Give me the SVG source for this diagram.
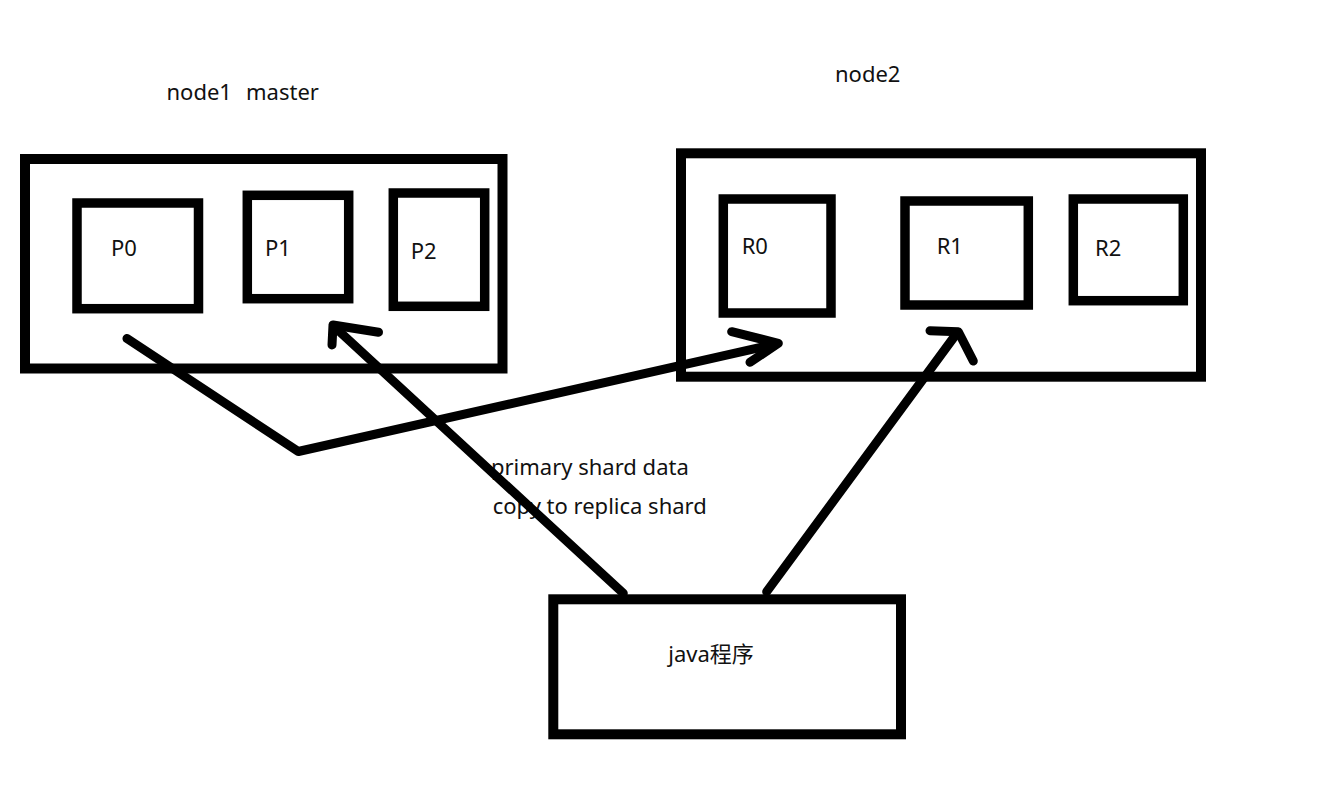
<svg xmlns="http://www.w3.org/2000/svg" width="1340" height="808" viewBox="0 0 1340 808">
  <style>
    .box { fill: none; stroke: #000; stroke-width: 10; }
    .shard { fill: none; stroke: #000; stroke-width: 9.5; }
    .lbl { font-family: "Noto Sans", "Liberation Sans", "Noto Sans CJK SC", sans-serif; font-size: 22px; fill: #111; }
    .wire { fill: none; stroke: #000; stroke-width: 9; stroke-linecap: round; stroke-linejoin: round; }
  </style>
  <rect x="0" y="0" width="1340" height="808" fill="#fff"/>

  <!-- node titles -->
  <text class="lbl" x="166.5" y="99.5">node1</text>
  <text class="lbl" x="246" y="99.5">master</text>
  <text class="lbl" x="835" y="81.5">node2</text>

  <!-- node1 with primary shards -->
  <g id="node1">
    <rect class="box" x="25" y="159" width="477.5" height="209.5"/>
  </g>
  <g id="P0">
    <rect class="shard" x="77" y="203" width="121.5" height="105.7"/>
    <text class="lbl" x="111" y="255.7">P0</text>
  </g>
  <g id="P1">
    <rect class="shard" x="247.3" y="195.3" width="101.4" height="103.4"/>
    <text class="lbl" x="265" y="255.7">P1</text>
  </g>
  <g id="P2">
    <rect class="shard" x="393.3" y="193" width="91.4" height="113.3"/>
    <text class="lbl" x="410.7" y="259.3">P2</text>
  </g>

  <!-- node2 with replica shards -->
  <g id="node2">
    <rect class="box" x="681" y="153.3" width="520" height="223.4"/>
  </g>
  <g id="R0">
    <rect class="shard" x="723.3" y="199" width="107.7" height="114"/>
    <text class="lbl" x="741.7" y="254">R0</text>
  </g>
  <g id="R1">
    <rect class="shard" x="905" y="201" width="123.3" height="104"/>
    <text class="lbl" x="936.7" y="254">R1</text>
  </g>
  <g id="R2">
    <rect class="shard" x="1073.3" y="199" width="110" height="101.7"/>
    <text class="lbl" x="1095" y="256">R2</text>
  </g>

  <!-- client program -->
  <g id="java">
    <rect class="box" x="553.3" y="599.3" width="347.7" height="135"/>
    <text class="lbl" x="668.3" y="661.5">java程序</text>
  </g>

  <!-- replication note -->
  <g id="note">
    <text class="lbl" x="491" y="475">primary shard data</text>
    <text class="lbl" x="492.7" y="514.3">copy to replica shard</text>
  </g>

  <!-- connectors -->
  <g id="connectors">
    <!-- P0 copied to R0 -->
    <path class="wire" stroke-linejoin="miter" d="M127 338.5 L298.3 451.5 L776 344"/>
    <path class="wire" d="M731.7 331.7 L778.3 343.3 L750 362.3"/>
    <!-- java program writes to P1 -->
    <path class="wire" d="M623.3 593.3 L333.5 326"/>
    <path class="wire" d="M378.5 332.2 L333 325 L332 345"/>
    <!-- java program reads from R1 -->
    <path class="wire" d="M766.7 591.7 L957 333"/>
    <path class="wire" d="M930 330.7 L958.3 331.7 L973.3 361"/>
  </g>
</svg>
